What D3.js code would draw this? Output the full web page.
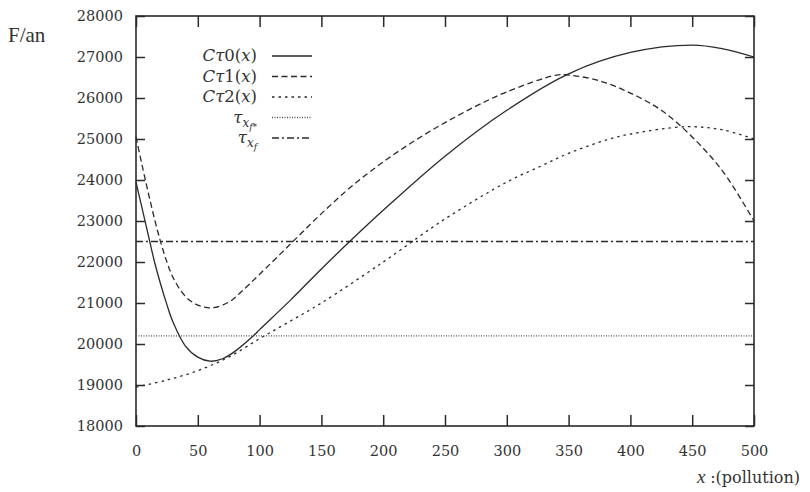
<!DOCTYPE html>
<html>
<head>
<meta charset="utf-8">
<script src="https://cdn.jsdelivr.net/npm/d3@7"></script>
<style>
  body { margin: 0; background: #fff; }
  text { fill: #333; }
</style>
</head>
<body>
<div id="chart"></div>
<script>
// 图表大小
const width = 810, height = 492;
const margin = { top: 16, right: 56, bottom: 66, left: 136 };

// 数据
const x0 = [0, 5, 10, 15, 20, 25, 30, 40, 50, 60, 70, 80, 95, 100, 125, 150, 175, 200, 250, 300, 350, 400, 450, 475, 500];
const ct0 = [23950, 23300, 22650, 22000, 21450, 20960, 20530, 19950, 19680, 19580, 19640, 19820, 20200, 20350, 21070, 21830, 22560, 23260, 24580, 25700, 26590, 27110, 27290, 27200, 27000];

const x1 = [0, 5, 10, 15, 20, 25, 30, 40, 50, 61, 75, 85, 100, 125, 150, 175, 200, 225, 250, 275, 300, 340, 350, 375, 400, 425, 450, 475, 500];
const ct1 = [25050, 24350, 23680, 23050, 22480, 22000, 21620, 21160, 20950, 20880, 21020, 21270, 21700, 22440, 23180, 23860, 24440, 24950, 25400, 25800, 26150, 26560, 26560, 26420, 26120, 25700, 25050, 24200, 23000];

const x2 = [0, 25, 50, 75, 100, 125, 150, 200, 250, 300, 327, 350, 381, 400, 445, 475, 500];
const ct2 = [18950, 19120, 19350, 19680, 20130, 20560, 21000, 22000, 23050, 23950, 24330, 24650, 24980, 25120, 25300, 25220, 25000];

const tauFStar = 20200; // τ x f*
const tauF = 22500;     // τ x f

const xTicks = [0, 50, 100, 150, 200, 250, 300, 350, 400, 450, 500];
const yTicks = [18000, 19000, 20000, 21000, 22000, 23000, 24000, 25000, 26000, 27000, 28000];

const svg = d3.select("#chart").append("svg")
  .attr("width", width)
  .attr("height", height);

const x = d3.scaleLinear().domain([0, 500]).range([margin.left, width - margin.right]);
const y = d3.scaleLinear().domain([18000, 28000]).range([height - margin.bottom, margin.top]);

const ink = "#2a2a2a";
const numFont = "DejaVu Serif";

// 坐标轴（刻度朝内，四边都有）
svg.append("g")
  .attr("transform", `translate(0,${y(18000)})`)
  .call(d3.axisBottom(x).tickValues(xTicks).tickSizeInner(-11).tickSizeOuter(0).tickPadding(20))
  .call(g => g.select(".domain").remove())
  .call(g => g.selectAll("text").attr("font-family", numFont).attr("font-size", 14.5).attr("fill", ink));

svg.append("g")
  .attr("transform", `translate(0,${y(28000)})`)
  .call(d3.axisTop(x).tickValues(xTicks).tickSizeInner(-11).tickSizeOuter(0).tickFormat(""))
  .call(g => g.select(".domain").remove());

svg.append("g")
  .attr("transform", `translate(${x(0)},0)`)
  .call(d3.axisLeft(y).tickValues(yTicks).tickSizeInner(-9).tickSizeOuter(0).tickPadding(13).tickFormat(d3.format("d")))
  .call(g => g.select(".domain").remove())
  .call(g => g.selectAll("text").attr("font-family", numFont).attr("font-size", 14.5).attr("fill", ink));

svg.append("g")
  .attr("transform", `translate(${x(500)},0)`)
  .call(d3.axisRight(y).tickValues(yTicks).tickSizeInner(-9).tickSizeOuter(0).tickFormat(""))
  .call(g => g.select(".domain").remove());

svg.selectAll(".tick line").attr("stroke", ink).attr("stroke-width", 1.5);

// 边框
svg.append("rect")
  .attr("x", x(0))
  .attr("y", y(28000))
  .attr("width", x(500) - x(0))
  .attr("height", y(18000) - y(28000))
  .attr("fill", "none")
  .attr("stroke", ink)
  .attr("stroke-width", 1.6);

// 曲线
const series = [
  { xs: x0, ys: ct0, dash: null },
  { xs: x1, ys: ct1, dash: "6,3.5" },
  { xs: x2, ys: ct2, dash: "2.5,4" }
];

const line = d3.line()
  .x(d => x(d[0]))
  .y(d => y(d[1]))
  .curve(d3.curveCatmullRom.alpha(0.5));

series.forEach(s => {
  svg.append("path")
    .datum(s.xs.map((v, i) => [v, s.ys[i]]))
    .attr("d", line)
    .attr("fill", "none")
    .attr("stroke", ink)
    .attr("stroke-width", 1.3)
    .attr("stroke-dasharray", s.dash);
});

// 水平线
svg.append("line")
  .attr("x1", x(0)).attr("x2", x(500))
  .attr("y1", y(tauFStar)).attr("y2", y(tauFStar))
  .attr("stroke", "#555").attr("stroke-width", 1.3)
  .attr("stroke-dasharray", "1,1.5");

svg.append("line")
  .attr("x1", x(0)).attr("x2", x(500))
  .attr("y1", y(tauF)).attr("y2", y(tauF))
  .attr("stroke", ink).attr("stroke-width", 1.3)
  .attr("stroke-dasharray", "7,3,2,3");

// 图例
const legendRows = [
  { name: "0", dash: null, color: ink },
  { name: "1", dash: "6,3.5", color: ink },
  { name: "2", dash: "2.5,4", color: ink },
  { name: "f*", dash: "1,1.5", color: "#555" },
  { name: "f", dash: "7,3,2,3", color: ink }
];
const legendX = 257, legendY0 = 56, legendStep = 20.5;

legendRows.forEach((r, i) => {
  const ly = legendY0 + i * legendStep;
  const t = svg.append("text")
    .attr("x", legendX)
    .attr("y", ly + 5)
    .attr("text-anchor", "end")
    .attr("font-family", "DejaVu Serif")
    .attr("font-size", 16.5)
    .attr("fill", ink);
  if (i < 3) {
    t.append("tspan").attr("font-style", "italic").text("Cτ");
    t.append("tspan").text(r.name + "(");
    t.append("tspan").attr("font-style", "italic").text("x");
    t.append("tspan").text(")");
  } else {
    t.append("tspan").attr("font-style", "italic").text("τ");
    t.append("tspan").attr("font-style", "italic").attr("font-size", 12).attr("dy", 4).text("x");
    t.append("tspan").attr("font-style", "italic").attr("font-size", 9).attr("dy", 3).text(r.name);
  }
  svg.append("line")
    .attr("x1", 272).attr("x2", 312)
    .attr("y1", ly).attr("y2", ly)
    .attr("stroke", r.color)
    .attr("stroke-width", 1.3)
    .attr("stroke-dasharray", r.dash);
});

// 轴标题
svg.append("text")
  .attr("x", 8)
  .attr("y", 42)
  .attr("font-family", "Liberation Serif")
  .attr("font-size", 21)
  .attr("fill", "#111")
  .text("F/an");

const xt = svg.append("text")
  .attr("x", 800)
  .attr("y", 483)
  .attr("text-anchor", "end")
  .attr("fill", "#111");
xt.append("tspan").attr("font-family", "Liberation Serif").attr("font-style", "italic").attr("font-size", 19).text("x ");
xt.append("tspan").attr("font-family", "DejaVu Serif").attr("font-size", 16).text(":(pollution)");
</script>
</body>
</html>
